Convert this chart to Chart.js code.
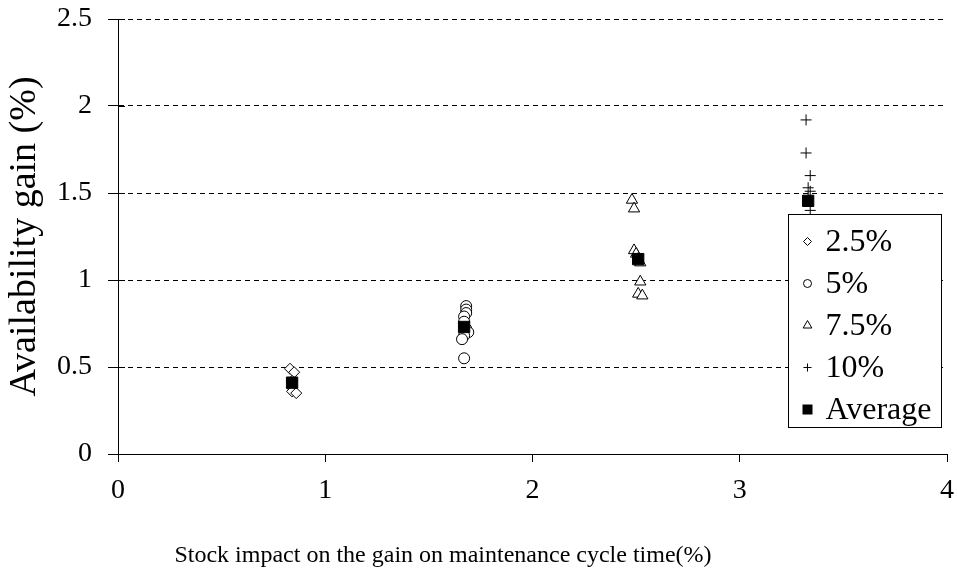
<!DOCTYPE html>
<html><head><meta charset="utf-8">
<script src="https://cdn.jsdelivr.net/npm/chart.js@4.4.1/dist/chart.umd.min.js"></script>
<style>html,body{margin:0;padding:0;background:#fff}#wrap{width:958px;height:574px}</style>
</head><body><div id="wrap"><canvas id="c" width="958" height="574"></canvas></div>
<script>
// ---- data ----
const xTickValues = [0, 1, 2, 3, 4];
const yTickValues = [0, 0.5, 1, 1.5, 2, 2.5];
const seriesLabels = ['2.5%', '5%', '7.5%', '10%', 'Average'];
const xTitle = 'Stock impact on the gain on maintenance cycle time(%)';
const yTitle = 'Availability gain (%)';

const s25X = [0.83, 0.85, 0.84, 0.84, 0.84, 0.86];
const s25Y = [0.49, 0.47, 0.42, 0.38, 0.36, 0.35];

const s5X = [1.68, 1.68, 1.68, 1.67, 1.67, 1.68, 1.69, 1.67, 1.66, 1.67];
const s5Y = [0.85, 0.83, 0.81, 0.79, 0.76, 0.72, 0.70, 0.68, 0.66, 0.55];

const s75X = [2.48, 2.49, 2.49, 2.50, 2.51, 2.52, 2.52, 2.51, 2.53];
const s75Y = [1.46, 1.41, 1.17, 1.15, 1.12, 1.10, 0.99, 0.92, 0.91];

const s10X = [3.32, 3.32, 3.34, 3.33, 3.34, 3.33, 3.34, 3.33, 3.33, 3.34, 3.33];
const s10Y = [1.92, 1.73, 1.60, 1.53, 1.51, 1.47, 1.40, 1.30, 1.22, 1.15, 1.12];

const avgX = [0.84, 1.67, 2.51, 3.33];
const avgY = [0.41, 0.73, 1.12, 1.455];

const pts = (xs, ys) => xs.map((x, i) => ({x: x, y: ys[i]}));
const FONT = "'Liberation Serif', 'Times New Roman', serif";

// crossing y tick marks (inner part)
const innerTicks = {
  id: 'innerTicks',
  afterDraw(chart) {
    const ctx = chart.ctx, y = chart.scales.y, left = chart.chartArea.left;
    ctx.save();
    ctx.strokeStyle = '#000'; ctx.lineWidth = 1;
    y.ticks.forEach(t => {
      const py = Math.round(y.getPixelForValue(t.value)) + 0.5;
      ctx.beginPath(); ctx.moveTo(left, py); ctx.lineTo(left + 7, py); ctx.stroke();
    });
    ctx.restore();
  }
};

// x axis title, drawn as text below the axis
const xTitlePlugin = {
  id: 'xTitlePlugin',
  afterDraw(chart) {
    const ctx = chart.ctx, a = chart.chartArea;
    ctx.save();
    ctx.fillStyle = '#000';
    ctx.font = '24px ' + FONT;
    ctx.textAlign = 'center'; ctx.textBaseline = 'middle';
    ctx.fillText(xTitle, a.left + 325, 556);
    ctx.restore();
  }
};

function marker(ctx, style, x, y) {
  ctx.beginPath();
  if (style === 'rectRot') {
    const r = 4;
    ctx.moveTo(x, y - r); ctx.lineTo(x + r, y); ctx.lineTo(x, y + r); ctx.lineTo(x - r, y); ctx.closePath();
    ctx.fillStyle = '#fff'; ctx.fill(); ctx.stroke();
  } else if (style === 'circle') {
    ctx.arc(x, y, 4, 0, Math.PI * 2);
    ctx.fillStyle = '#fff'; ctx.fill(); ctx.stroke();
  } else if (style === 'triangle') {
    const r = 5;
    ctx.moveTo(x, y - r); ctx.lineTo(x + r * 0.87, y + r * 0.5); ctx.lineTo(x - r * 0.87, y + r * 0.5); ctx.closePath();
    ctx.fillStyle = '#fff'; ctx.fill(); ctx.stroke();
  } else if (style === 'cross') {
    const r = 4;
    ctx.moveTo(x - r, y); ctx.lineTo(x + r, y); ctx.moveTo(x, y - r); ctx.lineTo(x, y + r); ctx.stroke();
  } else {
    ctx.fillStyle = '#000'; ctx.fillRect(x - 5, y - 5, 10, 10);
  }
}

const legendBox = {
  id: 'legendBox',
  afterDatasetsDraw(chart) {
    const ctx = chart.ctx, a = chart.chartArea;
    const bx = a.right - 158.5, by = 214.5, bw = 153, bh = 213;
    ctx.save();
    ctx.fillStyle = '#fff';
    ctx.fillRect(bx, by, bw, bh);
    ctx.strokeStyle = '#000'; ctx.lineWidth = 1;
    ctx.strokeRect(bx, by, bw, bh);
    seriesLabels.forEach((lab, k) => {
      const ds = chart.data.datasets.find(d => d.label === lab);
      const cy = by + 27 + k * 42;
      ctx.strokeStyle = '#000'; ctx.lineWidth = 1;
      marker(ctx, ds.pointStyle, bx + 19, cy);
      ctx.fillStyle = '#000';
      ctx.font = '32px ' + FONT;
      ctx.textBaseline = 'middle'; ctx.textAlign = 'left';
      ctx.fillText(ds.label, bx + 37, cy + 1);
    });
    ctx.restore();
  }
};

const base = {showLine: false, borderColor: '#000', borderWidth: 1, backgroundColor: '#fff', order: 1};

new Chart(document.getElementById('c'), {
  type: 'scatter',
  data: {
    datasets: [
      Object.assign({}, base, {label: seriesLabels[4], data: pts(avgX, avgY), pointStyle: 'rect', pointRadius: 8, backgroundColor: '#000', order: 0}),
      Object.assign({}, base, {label: seriesLabels[0], data: pts(s25X, s25Y), pointStyle: 'rectRot', pointRadius: 5.5}),
      Object.assign({}, base, {label: seriesLabels[1], data: pts(s5X, s5Y), pointStyle: 'circle', pointRadius: 5.5}),
      Object.assign({}, base, {label: seriesLabels[2], data: pts(s75X, s75Y), pointStyle: 'triangle', pointRadius: 6.5}),
      Object.assign({}, base, {label: seriesLabels[3], data: pts(s10X, s10Y), pointStyle: 'cross', pointRadius: 5.5})
    ]
  },
  options: {
    responsive: false,
    animation: false,
    devicePixelRatio: 1,
    layout: {autoPadding: false, padding: {left: 0, top: 19, right: 11, bottom: 0}},
    plugins: {legend: {display: false}, tooltip: {enabled: false}},
    scales: {
      x: {
        type: 'linear', min: 0, max: 4,
        afterFit: s => { s.height = 120; s.paddingLeft = 0; s.paddingRight = 0; },
        afterBuildTicks: s => { s.ticks = xTickValues.map(v => ({value: v})); },
        ticks: {color: '#000', font: {family: FONT, size: 28}, padding: 12, callback: v => String(v)},
        grid: {drawOnChartArea: false, tickLength: 8, color: '#000', tickColor: '#000', lineWidth: 1},
        border: {display: true, color: '#000', width: 1},
        title: {display: false}
      },
      y: {
        type: 'linear', min: 0, max: 2.5,
        afterFit: s => { s.width = 118; s.paddingTop = 0; s.paddingBottom = 0; },
        afterBuildTicks: s => { s.ticks = yTickValues.map(v => ({value: v})); },
        ticks: {color: '#000', font: {family: FONT, size: 28}, padding: 16, callback: v => String(v)},
        grid: {color: '#000', lineWidth: 1, tickLength: 10, tickColor: '#000', tickBorderDash: [], borderDash: [5, 4]},
        border: {display: true, color: '#000', width: 1, dash: [5, 4]},
        title: {display: true, text: yTitle, color: '#000', font: {family: FONT, size: 38}, padding: {top: 2, bottom: 0}}
      }
    }
  },
  plugins: [innerTicks, legendBox, xTitlePlugin]
});
</script>
</body></html>
